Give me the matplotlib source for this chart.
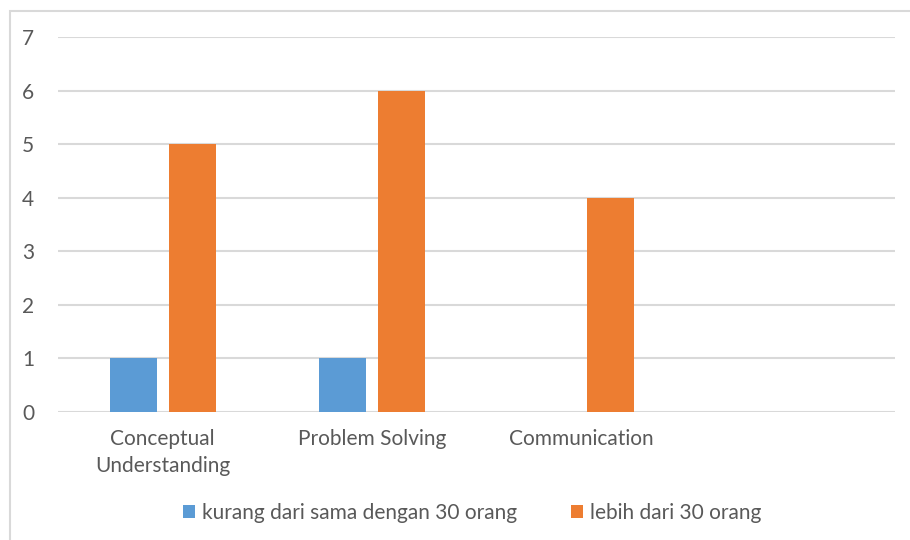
import matplotlib.pyplot as plt
import matplotlib.patches as mpatches
import numpy as np

# chart data
categories = ['Conceptual\nUnderstanding', 'Problem Solving', 'Communication', '']
kurang = [1, 1, 0, 0]
lebih = [5, 6, 4, 0]
series_names = ['kurang dari sama dengan 30 orang', 'lebih dari 30 orang']
colors = ['#5b9bd5', '#ed7d31']

plt.rcParams['font.family'] = ['Lato', 'DejaVu Sans']

fig = plt.figure(figsize=(9.1, 5.4), dpi=100)
ax = fig.add_axes([58 / 910, 1 - 412 / 540, 837 / 910, 375 / 540])

x = np.arange(len(categories))
width = 0.225
off = 0.141
ax.bar(x - off, kurang, width, color=colors[0], label=series_names[0], zorder=3)
ax.bar(x + off, lebih, width, color=colors[1], label=series_names[1], zorder=3)

ax.set_xlim(-0.5, len(categories) - 0.5)
ax.set_ylim(0, 7)
ax.set_yticks(range(0, 8))
ax.set_xticks(x)
ax.set_xticklabels(categories, fontsize=15, color='#595959', linespacing=1.45)
ax.tick_params(axis='y', labelsize=15, labelcolor='#595959', length=0, pad=17)
ax.tick_params(axis='x', length=0, pad=12)
ax.grid(axis='y', color='#d9d9d9', linewidth=1.5, zorder=0)
for s in ax.spines.values():
    s.set_visible(False)

# legend
leg = fig.legend(loc='center', bbox_to_anchor=(472 / 910, 1 - 513 / 540), ncol=2,
                 frameon=False, fontsize=15, handlelength=0.6, handleheight=0.6,
                 handletextpad=0.3, columnspacing=2.6, labelcolor='#595959')

# outer border of the chart area
fig.patches.append(mpatches.Rectangle((10 / 910, -0.05), 1.0, 1 - 11 / 540 + 0.05,
                                      transform=fig.transFigure, fill=False,
                                      edgecolor='#d9d9d9', linewidth=1.5))

fig.savefig('out.png', dpi=100)
